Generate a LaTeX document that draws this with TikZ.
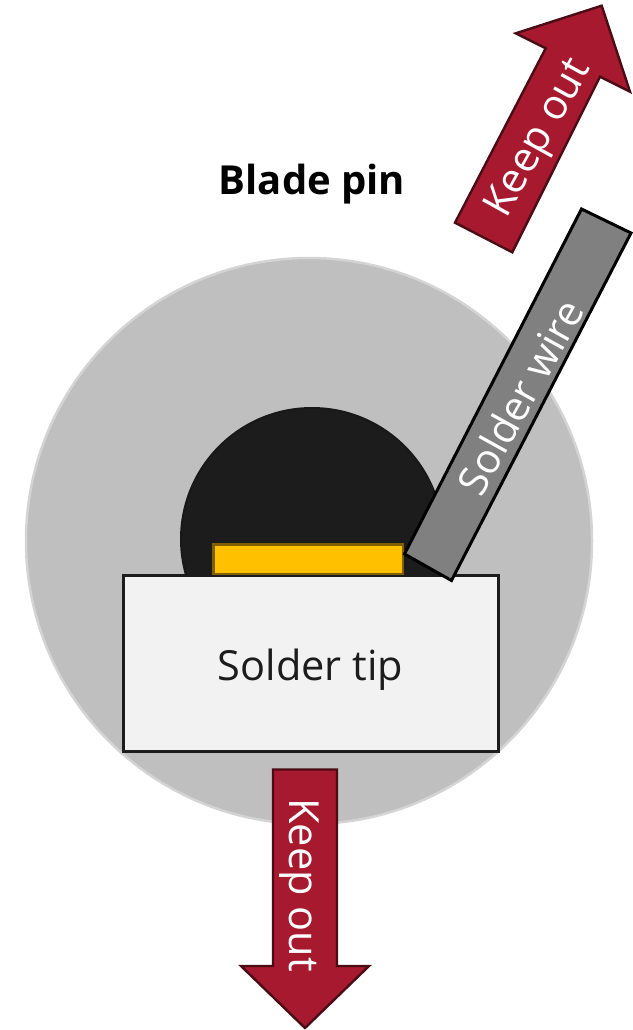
\documentclass[tikz,border=0pt]{standalone}
\usepackage{fontspec}
\setmainfont{Open Sans}
\definecolor{keepfill}{HTML}{A6192E}
\definecolor{keepline}{HTML}{4A0C15}
\definecolor{pinfill}{HTML}{BFBFBF}
\definecolor{pinline}{HTML}{D4D4D4}
\definecolor{blob}{HTML}{1C1C1C}
\definecolor{padfill}{HTML}{FFC000}
\definecolor{padline}{HTML}{7F6000}
\definecolor{tipfill}{HTML}{F2F2F2}
\definecolor{wirefill}{HTML}{808080}
\tikzset{
  keeparrow/.style={fill=keepfill,draw=keepline,line width=2.4pt,line join=miter},
  keeplabel/.style={text=white,font=\fontsize{41.5}{41.5}\selectfont,inner sep=0pt},
  wirelabel/.style={text=white,font=\fontsize{41}{41}\selectfont,inner sep=0pt},
  darklabel/.style={text=blob,font=\fontsize{41.5}{41.5}\selectfont,inner sep=0pt}
}
\begin{document}
\begin{tikzpicture}[x=1pt,y=-1pt]
\useasboundingbox (0,0) rectangle (632,1030);
\fill[white] (0,0) rectangle (632,1030);
% blade pin
\draw[fill=pinfill,draw=pinline,line width=2.5pt] (309,541) circle[radius=283];
\draw[fill=blob,draw=blob!85!black,line width=2pt] (312,539) circle[radius=131];
% solder tip
\node[draw=blob,fill=tipfill,line width=2.5pt,minimum width=375pt,minimum height=176pt,inner sep=0pt,anchor=north west] (tip) at (122.3,574.3) {};
\node[darklabel] (tiplabel) at (310.5,670) {Solder tip};
% pad
\draw[fill=padfill,draw=padline,line width=2.5pt] (213.5,544.5) rectangle (403,574);
% solder wire
\draw[fill=wirefill,draw=black,line width=3pt,line join=miter] (581.5,209) -- (631,233) -- (451.5,580.5) -- (404.5,554) -- cycle;
\node[wirelabel,rotate=61] (wirelabel) at (520,397) {Solder wire};
% keep out arrows
\draw[keeparrow] (455,222.7) -- (512.3,252.3) -- (600,76.7) -- (630,91.7) -- (601.7,5.7) -- (515.7,33.3) -- (545.7,48.3) -- cycle;
\node[keeplabel,rotate=61] (keepup) at (540,139) {Keep out};
\draw[keeparrow] (273,769.5) -- (337,769.5) -- (337,966) -- (369,966) -- (305,1028) -- (241,966) -- (273,966) -- cycle;
\node[keeplabel,rotate=-90] (keepdown) at (299,885) {Keep out};
% title
\node[text=black,font=\fontsize{40}{40}\selectfont\bfseries,inner sep=0pt] (title) at (312,184) {Blade pin};
\end{tikzpicture}
\end{document}
